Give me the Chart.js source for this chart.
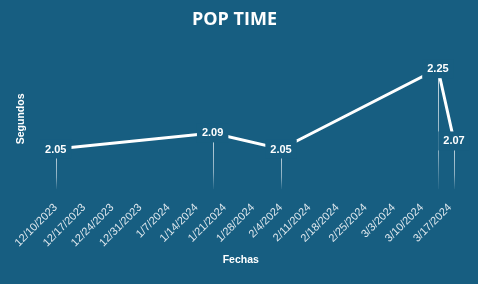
<!DOCTYPE html>
<html><head><meta charset="utf-8">
<script src="https://cdn.jsdelivr.net/npm/chart.js@4.4.1/dist/chart.umd.min.js"></script>
<style>html,body{margin:0;padding:0;background:#175e81;overflow:hidden}</style>
</head><body>
<canvas id="c" width="478" height="284" style="display:block;width:478px;height:284px"></canvas>
<script>
const startDate = '2023-12-10';
const pointDates = ['2023-12-10', '2024-01-18', '2024-02-04', '2024-03-14', '2024-03-18'];
const popTimes = [2.05, 2.09, 2.05, 2.25, 2.07];
const tickLabels = ['12/10/2023', '12/17/2023', '12/24/2023', '12/31/2023', '1/7/2024', '1/14/2024', '1/21/2024', '1/28/2024', '2/4/2024', '2/11/2024', '2/18/2024', '2/25/2024', '3/3/2024', '3/10/2024', '3/17/2024'];

const DAY = 86400000;
const dayOffset = d => Math.round((Date.parse(d + 'T00:00:00Z') - Date.parse(startDate + 'T00:00:00Z')) / DAY);
const points = pointDates.map((d, i) => ({ x: dayOffset(d), y: popTimes[i] }));
const BG = '#175e81';

const bgPlugin = {
  id: 'bg',
  beforeDraw(chart) {
    const ctx = chart.ctx;
    ctx.save();
    ctx.fillStyle = BG;
    ctx.fillRect(0, 0, chart.width, chart.height);
    ctx.restore();
  }
};

const dropLines = {
  id: 'dropLines',
  beforeDatasetsDraw(chart) {
    const ctx = chart.ctx;
    const bottom = chart.chartArea.bottom;
    const meta = chart.getDatasetMeta(0);
    ctx.save();
    meta.data.forEach(el => {
      const g = ctx.createLinearGradient(0, el.y, 0, bottom);
      g.addColorStop(0, 'rgba(230,238,243,0.85)');
      g.addColorStop(0.7, 'rgba(230,238,243,0.55)');
      g.addColorStop(1, 'rgba(230,238,243,0.05)');
      ctx.strokeStyle = g;
      ctx.lineWidth = 1;
      ctx.beginPath();
      ctx.moveTo(Math.round(el.x) + 0.5, el.y);
      ctx.lineTo(Math.round(el.x) + 0.5, bottom);
      ctx.stroke();
    });
    ctx.restore();
  }
};

const valueLabels = {
  id: 'valueLabels',
  afterDatasetsDraw(chart) {
    const ctx = chart.ctx;
    const meta = chart.getDatasetMeta(0);
    const data = chart.data.datasets[0].data;
    ctx.save();
    ctx.font = 'bold 11px "Liberation Sans", Arial, sans-serif';
    ctx.textAlign = 'center';
    ctx.textBaseline = 'middle';
    meta.data.forEach((el, i) => {
      const txt = data[i].y.toFixed(2);
      const w = ctx.measureText(txt).width + 10;
      const h = 19;
      ctx.fillStyle = BG;
      ctx.fillRect(el.x - w / 2, el.y - h / 2, w, h);
      ctx.fillStyle = '#ffffff';
      ctx.fillText(txt, el.x, el.y + 0.5);
    });
    ctx.restore();
  }
};

new Chart(document.getElementById('c'), {
  type: 'line',
  data: {
    datasets: [{
      data: points,
      borderColor: '#ffffff',
      borderWidth: 3,
      pointRadius: 0,
      tension: 0,
      fill: false
    }]
  },
  options: {
    responsive: false,
    animation: false,
    layout: { padding: { left: 15, right: 24, top: 0, bottom: 14 } },
    plugins: {
      legend: { display: false },
      tooltip: { enabled: false },
      title: {
        display: true,
        text: 'POP TIME',
        color: '#ffffff',
        font: { family: '"Open Sans", sans-serif', size: 18, weight: 'bold' },
        padding: { top: 9, bottom: 18 }
      }
    },
    scales: {
      x: {
        type: 'linear',
        min: -7,
        max: 99,
        grid: { display: false },
        border: { display: false },
        afterBuildTicks(scale) {
          scale.ticks = tickLabels.map((_, i) => ({ value: i * 7 }));
        },
        afterFit(scale) {
          scale.paddingLeft = 0;
          scale.paddingRight = 0;
        },
        ticks: {
          autoSkip: false,
          maxRotation: 45,
          minRotation: 45,
          padding: 4,
          color: '#dfe8ee',
          font: { family: '"Liberation Sans", Arial, sans-serif', size: 11 },
          callback: (v, i) => tickLabels[i]
        },
        title: {
          display: true,
          text: 'Fechas',
          color: '#ffffff',
          font: { family: '"Liberation Sans", Arial, sans-serif', size: 10.5, weight: 'bold' },
          padding: { top: 0, bottom: 4 }
        }
      },
      y: {
        min: 1.95,
        max: 2.3,
        grid: { display: false, drawTicks: false },
        border: { display: false },
        ticks: { display: false },
        title: {
          display: true,
          text: 'Segundos',
          color: '#ffffff',
          font: { family: '"Liberation Sans", Arial, sans-serif', size: 10.5, weight: 'bold' },
          padding: 0
        }
      }
    }
  },
  plugins: [bgPlugin, dropLines, valueLabels]
});
</script>
</body></html>
